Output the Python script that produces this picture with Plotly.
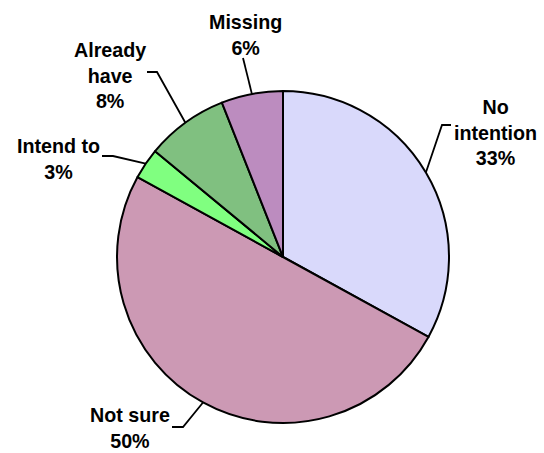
import math
import plotly.graph_objects as go

# Survey answers, in drawing order (clockwise from 12 o'clock)
categories = ["No intention", "Not sure", "Intend to", "Already have", "Missing"]
shares = [33, 50, 3, 8, 6]
colors = ["#D9D9FB", "#CC99B4", "#80FF80", "#80C080", "#BC8CBF"]
label_text = ["No<br>intention", "Not sure", "Intend to", "Already<br>have", "Missing"]

W, H = 544, 453
CX, CY, R = 283, 257, 166  # pie centre and radius, page pixels

# Where each label sits, plus the leader's elbow and the end next to the text
label_layout = {
    "No intention": dict(text=(495, 132), elbow=(442, 125), end=(451, 125)),
    "Not sure": dict(text=(130, 428), elbow=(183, 427), end=(172, 427)),
    "Intend to": dict(text=(58, 159), elbow=(113, 156), end=(102, 156)),
    "Already have": dict(text=(110, 75), elbow=(157, 72), end=(147, 72)),
    "Missing": dict(text=(245, 35), elbow=None, end=(243, 58)),
}

fig = go.Figure()
fig.add_trace(go.Pie(
    labels=categories,
    values=shares,
    sort=False,
    direction="clockwise",
    rotation=0,
    textinfo="none",
    hoverinfo="label+percent",
    marker=dict(colors=colors, line=dict(color="black", width=2)),
    domain=dict(x=[(CX - R) / W, (CX + R) / W],
                y=[1 - (CY + R) / H, 1 - (CY - R) / H]),
    showlegend=False,
))

total = sum(shares)
shapes, annotations = [], []
cum = 0
for name, val, txt in zip(categories, shares, label_text):
    theta = 2 * math.pi * (cum + val / 2) / total
    cum += val
    ex, ey = CX + R * math.sin(theta), CY - R * math.cos(theta)
    lay = label_layout[name]
    pts = [(ex, ey)]
    if lay["elbow"] is not None:
        pts.append(lay["elbow"])
    pts.append(lay["end"])
    path = "M " + " L ".join(f"{x:.1f},{y:.1f}" for x, y in pts)
    shapes.append(dict(type="path", path=path, xref="x", yref="y",
                       line=dict(color="black", width=1.8)))
    pct = round(100 * val / total)
    annotations.append(dict(
        x=lay["text"][0], y=lay["text"][1], xref="x", yref="y",
        text=f"{txt}<br>{pct}%", showarrow=False, align="center",
        xanchor="center", yanchor="middle",
        font=dict(family="Liberation Sans, Arial, sans-serif", size=19.7,
                  color="black", weight="bold"),
    ))

fig.update_layout(
    width=W, height=H,
    margin=dict(l=0, r=0, t=0, b=0),
    paper_bgcolor="white", plot_bgcolor="rgba(0,0,0,0)",
    xaxis=dict(range=[0, W], visible=False, fixedrange=True, domain=[0, 1]),
    yaxis=dict(range=[H, 0], visible=False, fixedrange=True, domain=[0, 1]),
    shapes=shapes,
    annotations=annotations,
)

fig.write_html("out.html")
